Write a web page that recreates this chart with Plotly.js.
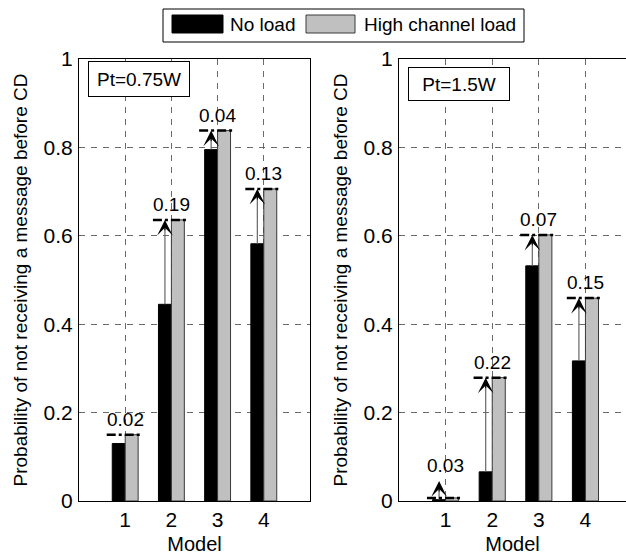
<!DOCTYPE html>
<html><head><meta charset="utf-8">
<script src="https://cdn.plot.ly/plotly-3.0.1.min.js"></script>
<style>html,body{margin:0;padding:0;background:#fff;overflow:hidden}</style>
</head><body><div id="chart" style="width:626px;height:555px"></div>
<script>
// ---- data ----
const models = [1, 2, 3, 4];
const seriesNames = ['No load', 'High channel load'];
const noLoad075 = [0.130, 0.445, 0.795, 0.582];
const highLoad075 = [0.150, 0.636, 0.838, 0.706];
const arrowTop075 = [null, 0.636, 0.838, 0.706];
const diffLabels075 = ['0.02', '0.19', '0.04', '0.13'];
const noLoad15 = [0.003, 0.066, 0.532, 0.317];
const highLoad15 = [0.007, 0.279, 0.602, 0.459];
const arrowTop15 = [0.045, 0.279, 0.602, 0.459];
const diffLabels15 = ['0.03', '0.22', '0.07', '0.15'];
const panelLabels = ['Pt=0.75W', 'Pt=1.5W'];
const yTickVals = [0, 0.2, 0.4, 0.6, 0.8, 1];
const yTickText = ['0', '0.2', '0.4', '0.6', '0.8', '1'];
const xTitle = 'Model';
const yTitle = 'Probability of not receiving a message before CD';

// ---- style ----
const W = 626, H = 555;
const FONT = 'Liberation Sans, Arial, Helvetica, sans-serif';
const px = v => v / W;
const py = v => (H - v) / H;
const BLACK = '#000000', GRAY = '#c0c0c0', EDGE = '#3a3a3a';
const yDom = [py(501), py(59)];

const panels = [
  {xa: 'x', ya: 'y', noLoad: noLoad075, high: highLoad075, top: arrowTop075, labels: diffLabels075},
  {xa: 'x2', ya: 'y2', noLoad: noLoad15, high: highLoad15, top: arrowTop15, labels: diffLabels15}
];

const traces = [];
panels.forEach((p, i) => {
  traces.push({type: 'bar', x: models, y: p.noLoad, name: seriesNames[0], xaxis: p.xa, yaxis: p.ya,
    marker: {color: BLACK, line: {color: BLACK, width: 1}}, showlegend: false, hoverinfo: 'skip'});
  traces.push({type: 'bar', x: models, y: p.high, name: seriesNames[1], xaxis: p.xa, yaxis: p.ya,
    marker: {color: GRAY, line: {color: EDGE, width: 1}}, showlegend: false, hoverinfo: 'skip'});
});

const shapes = [];
const annotations = [];
panels.forEach((p, i) => {
  models.forEach((m, j) => {
    const tip = p.top[j];
    if (tip !== null) {
      shapes.push({type: 'line', xref: p.xa, yref: p.ya, x0: m - 0.14, x1: m - 0.14,
        y0: p.noLoad[j], y1: tip - 0.01, line: {color: '#666666', width: 1.2}});
    }
    shapes.push({type: 'line', xref: p.xa, yref: p.ya, x0: m - 0.4, x1: m + 0.32,
      y0: p.high[j], y1: p.high[j], line: {color: BLACK, width: 2.5, dash: 'dashdot'}});
    if (tip !== null) {
      annotations.push({xref: p.xa, yref: p.ya, x: m - 0.14, y: tip, ax: 0, ay: 12, text: '',
        showarrow: true, arrowhead: 3, arrowsize: 2.6, arrowwidth: 1, arrowcolor: BLACK, standoff: 0});
    }
    const labelY = tip === null ? p.high[j] : Math.max(tip, p.high[j]);
    annotations.push({xref: p.xa, yref: p.ya, x: m, y: labelY, text: p.labels[j], showarrow: false,
      yanchor: 'bottom', yshift: 3, font: {family: FONT, size: 19, color: BLACK}});
  });
});

// panel label boxes
annotations.push({xref: 'paper', yref: 'paper', x: px(138.5), y: py(79.5), text: panelLabels[0],
  showarrow: false, xanchor: 'center', yanchor: 'middle', width: 90, height: 24, borderpad: 5,
  bordercolor: BLACK, borderwidth: 1, bgcolor: '#ffffff', font: {family: FONT, size: 19, color: BLACK}});
annotations.push({xref: 'paper', yref: 'paper', x: px(459), y: py(84), text: panelLabels[1],
  showarrow: false, xanchor: 'center', yanchor: 'middle', width: 90, height: 22, borderpad: 5,
  bordercolor: BLACK, borderwidth: 1, bgcolor: '#ffffff', font: {family: FONT, size: 19, color: BLACK}});

// manual legend
shapes.push({type: 'rect', xref: 'paper', yref: 'paper', x0: px(163), x1: px(524), y0: py(42), y1: py(9),
  line: {color: BLACK, width: 1}, fillcolor: '#ffffff'});
shapes.push({type: 'rect', xref: 'paper', yref: 'paper', x0: px(172), x1: px(223), y0: py(33), y1: py(15),
  line: {color: BLACK, width: 1}, fillcolor: BLACK});
shapes.push({type: 'rect', xref: 'paper', yref: 'paper', x0: px(306), x1: px(355), y0: py(33), y1: py(15),
  line: {color: EDGE, width: 1}, fillcolor: GRAY});
annotations.push({xref: 'paper', yref: 'paper', x: px(228), y: py(25), text: seriesNames[0], showarrow: false,
  xanchor: 'left', yanchor: 'middle', font: {family: FONT, size: 19, color: BLACK}});
annotations.push({xref: 'paper', yref: 'paper', x: px(362), y: py(25), text: seriesNames[1], showarrow: false,
  xanchor: 'left', yanchor: 'middle', font: {family: FONT, size: 19, color: BLACK}});

function xAxis(domain, range, anchor) {
  return {domain, range, anchor, tickvals: models, ticktext: models.map(String),
    showgrid: true, gridcolor: '#6a6a6a', gridwidth: 1, griddash: '6px,6px',
    showline: true, linecolor: BLACK, linewidth: 1, mirror: true, zeroline: false,
    ticks: '', ticklabelstandoff: 0, tickfont: {family: FONT, size: 21, color: BLACK},
    title: {text: xTitle, font: {family: FONT, size: 20, color: BLACK}, standoff: 16}, fixedrange: true};
}
function yAxis(anchor, mirror) {
  return {domain: yDom, range: [0, 1], anchor, tickvals: yTickVals, ticktext: yTickText,
    showgrid: true, gridcolor: '#6a6a6a', gridwidth: 1, griddash: '6px,6px',
    showline: true, linecolor: BLACK, linewidth: 1, mirror, zeroline: false,
    ticks: '', ticklabelstandoff: 1, tickfont: {family: FONT, size: 21, color: BLACK},
    title: {text: yTitle, font: {family: FONT, size: 19, color: BLACK}, standoff: 10}, fixedrange: true};
}

const layout = {
  width: W, height: H, margin: {l: 0, r: 0, t: 0, b: 0},
  paper_bgcolor: '#ffffff', plot_bgcolor: '#ffffff',
  barmode: 'group', bargap: 0.44, bargroupgap: 0,
  font: {family: FONT, color: BLACK},
  showlegend: false,
  xaxis: xAxis([px(79), px(310)], [0, 5], 'y'),
  yaxis: yAxis('x', true),
  xaxis2: xAxis([px(399), 1], [0, 4.87], 'y2'),
  yaxis2: yAxis('x2', false),
  shapes, annotations
};

Plotly.newPlot('chart', traces, layout, {staticPlot: true, displayModeBar: false});
</script></body></html>
